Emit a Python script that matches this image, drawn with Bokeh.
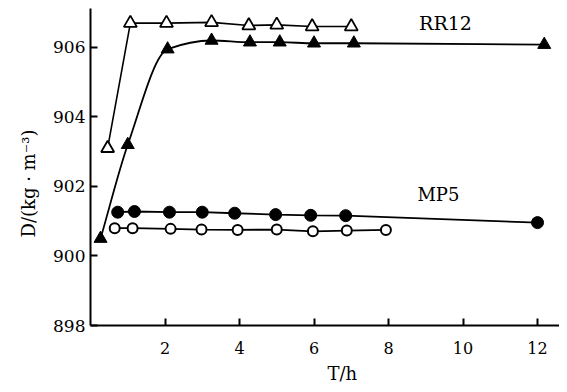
import numpy as np
from bokeh.plotting import figure
from bokeh.models import Label, FixedTicker, Range1d, Title
from bokeh.embed import file_html
from bokeh.resources import INLINE

# ---- data ----
rr12_open_x = [0.46, 1.07, 2.04, 3.25, 4.25, 5.0, 5.95, 7.0]
rr12_open_y = [903.1, 906.7, 906.7, 906.72, 906.63, 906.65, 906.6, 906.6]

rr12_fill_x = [0.27, 1.0, 2.07, 3.25, 4.28, 5.08, 6.0, 7.07, 12.18]
rr12_fill_y = [900.5, 903.2, 905.95, 906.2, 906.15, 906.15, 906.12, 906.12, 906.08]

mp5_fill_x = [0.73, 1.18, 2.12, 3.0, 3.87, 4.97, 5.91, 6.85, 12.0]
mp5_fill_y = [901.26, 901.28, 901.26, 901.26, 901.23, 901.19, 901.17, 901.16, 900.96]

mp5_open_x = [0.65, 1.13, 2.15, 2.98, 3.95, 5.0, 5.97, 6.88, 7.93]
mp5_open_y = [900.8, 900.8, 900.78, 900.76, 900.75, 900.76, 900.71, 900.73, 900.75]

x_ticks = [2, 4, 6, 8, 10, 12]
y_ticks = [898, 900, 902, 904, 906]

x_title = "T/h"
y_title = "D/(kg · m⁻³)"

FONT = "DejaVu Serif"


def monotone_bezier(xs, ys):
    """Control points of a monotone cubic (Fritsch-Carlson) through the points."""
    x = np.asarray(xs, float)
    y = np.asarray(ys, float)
    h = np.diff(x)
    d = np.diff(y) / h
    n = len(x)
    m = np.zeros(n)
    m[0] = d[0]
    m[-1] = d[-1]
    for k in range(1, n - 1):
        if d[k - 1] * d[k] <= 0:
            m[k] = 0.0
        else:
            w1 = 2 * h[k] + h[k - 1]
            w2 = h[k] + 2 * h[k - 1]
            m[k] = (w1 + w2) / (w1 / d[k - 1] + w2 / d[k])
    x0, y0 = x[:-1], y[:-1]
    x1, y1 = x[1:], y[1:]
    cx0 = x0 + h / 3
    cy0 = y0 + m[:-1] * h / 3
    cx1 = x1 - h / 3
    cy1 = y1 - m[1:] * h / 3
    return x0, y0, x1, y1, cx0, cy0, cx1, cy1


p = figure(width=559, height=392, output_backend="svg", toolbar_location=None,
           x_range=Range1d(0, 12.59), y_range=Range1d(898, 907.12),
           min_border_left=90, min_border_right=0, min_border_top=8,
           min_border_bottom=67)
p.outline_line_color = None
p.grid.visible = False
p.background_fill_color = "white"

for ax in (p.xaxis[0], p.yaxis[0]):
    ax.axis_line_width = 2
    ax.axis_line_color = "black"
    ax.major_tick_in = 7
    ax.major_tick_out = 0
    ax.major_tick_line_width = 2
    ax.major_tick_line_color = "black"
    ax.minor_tick_line_color = None
    ax.major_label_text_font = FONT
    ax.major_label_text_color = "black"

p.xaxis.ticker = FixedTicker(ticks=x_ticks)
p.yaxis.ticker = FixedTicker(ticks=y_ticks)
p.xaxis.major_label_text_font_size = "16px"
p.yaxis.major_label_text_font_size = "17px"
p.xaxis.major_label_standoff = 16
p.yaxis.major_label_standoff = 5

# RR12 open triangles
p.line(rr12_open_x, rr12_open_y, line_width=1.6, color="black")
p.scatter(rr12_open_x, rr12_open_y, marker="triangle", size=13,
          fill_color="white", line_color="black", line_width=1.8)

# RR12 filled triangles (smooth curve)
bx0, by0, bx1, by1, bcx0, bcy0, bcx1, bcy1 = monotone_bezier(rr12_fill_x, rr12_fill_y)
p.bezier(x0=bx0, y0=by0, x1=bx1, y1=by1, cx0=bcx0, cy0=bcy0, cx1=bcx1, cy1=bcy1,
         line_width=1.8, line_color="black")
p.scatter(rr12_fill_x, rr12_fill_y, marker="triangle", size=13,
          fill_color="black", line_color="black", line_width=1)

# MP5 filled circles
p.line(mp5_fill_x, mp5_fill_y, line_width=1.8, color="black")
p.scatter(mp5_fill_x, mp5_fill_y, marker="circle", size=12,
          fill_color="black", line_color="black")

# MP5 open circles
p.line(mp5_open_x, mp5_open_y, line_width=1.8, color="black")
p.scatter(mp5_open_x, mp5_open_y, marker="circle", size=10,
          fill_color="white", line_color="black", line_width=2)

# series labels
p.add_layout(Label(x=9.53, y=906.69, text="RR12", text_font=FONT,
                   text_font_size="19px", text_align="center",
                   text_baseline="middle", text_color="black"))
p.add_layout(Label(x=9.34, y=901.77, text="MP5", text_font=FONT,
                   text_font_size="18px", text_align="center",
                   text_baseline="middle", text_color="black"))

# axis titles as side titles (placed with pixel offsets)
p.add_layout(Title(text=x_title, align="left", offset=237, standoff=9,
                   text_font=FONT, text_font_size="18px", text_font_style="normal",
                   text_color="black"), "below")
p.add_layout(Title(text=y_title, align="left", offset=88, standoff=20,
                   vertical_align="top",
                   text_font=FONT, text_font_size="18px", text_font_style="normal",
                   text_color="black"), "left")

open("out.html", "w").write(file_html(p, INLINE))
